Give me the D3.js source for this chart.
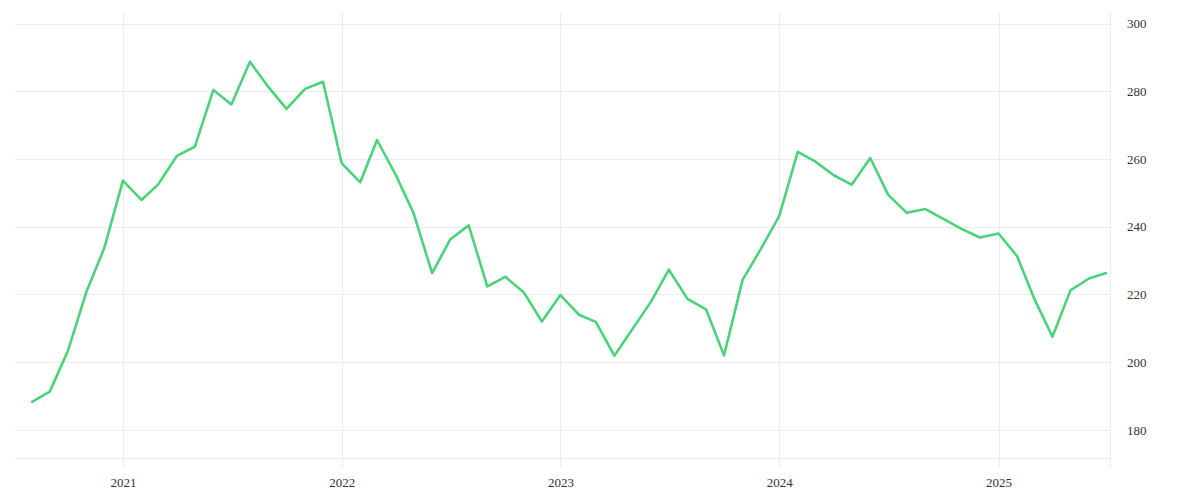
<!DOCTYPE html>
<html>
<head>
<meta charset="utf-8">
<script src="https://cdn.jsdelivr.net/npm/d3@7"></script>
<style>
    body { margin: 0; background: #fff; }
    .grid line { stroke: #ebebeb; stroke-width: 1; }
    .axis text { font-family: "Liberation Serif", serif; font-size: 13px; fill: #333; }
</style>
</head>
<body>
<div id="chart"></div>
<script>
// Monthly values, Aug 2020 .. Jul 2025
const startMonth = "2020-08";
const values = [
    188.1, 191.3, 203.2, 220.7, 233.7,
    253.6, 247.9, 252.5, 260.9, 263.6, 280.4, 276.1, 288.7, 281.2, 274.8, 280.7, 282.8,
    258.8, 253.1, 265.6, 255.4, 244.0, 226.3, 236.2, 240.4, 222.4, 225.2, 220.6, 212.0,
    219.8, 214.0, 211.9, 201.9, 209.7, 217.8, 227.3, 218.7, 215.6, 202.0, 224.3, 233.3,
    243.1, 262.1, 259.3, 255.2, 252.4, 260.3, 249.4, 244.1, 245.2, 242.3, 239.3, 236.8,
    238.0, 231.3, 219.0, 207.5, 221.2, 224.7, 226.4
];
const yTicks = [180, 200, 220, 240, 260, 280, 300];
const yearTicks = ["2021", "2022", "2023", "2024", "2025"];

const parseMonth = d3.timeParse("%Y-%m");
const data = values.map((v, i) => ({ date: d3.timeMonth.offset(parseMonth(startMonth), i), value: v }));

const margin = { top: 12, right: 90, bottom: 42, left: 15 };
const width = 1200 - margin.left - margin.right;
const height = 500 - margin.top - margin.bottom;

const svg = d3.select("#chart").append("svg")
    .attr("width", 1200)
    .attr("height", 500)
    .append("g")
    .attr("transform", "translate(" + margin.left + "," + margin.top + ")");

const x = d3.scaleTime()
    .domain([new Date(2020, 6, 5), new Date(2025, 6, 6)])
    .range([0, width]);

const y = d3.scaleLinear()
    .domain([171.7, 303.4])
    .range([height, 0]);

// horizontal grid
const grid = svg.append("g").attr("class", "grid");
grid.selectAll(".hline")
    .data(yTicks)
    .join("line")
    .attr("class", "hline")
    .attr("x1", 0).attr("x2", width)
    .attr("y1", d => Math.round(y(d)) + 0.5)
    .attr("y2", d => Math.round(y(d)) + 0.5);

// bottom line
grid.append("line")
    .attr("x1", 0).attr("x2", width)
    .attr("y1", height + 0.5).attr("y2", height + 0.5);

// vertical year lines, running a bit past the bottom
const yearDates = yearTicks.map(d => d3.timeParse("%Y")(d));
grid.selectAll(".vline")
    .data(yearDates)
    .join("line")
    .attr("class", "vline")
    .attr("x1", d => Math.round(x(d)) + 0.5)
    .attr("x2", d => Math.round(x(d)) + 0.5)
    .attr("y1", 0).attr("y2", height + 10);

// right edge
grid.append("line")
    .attr("x1", width + 0.5).attr("x2", width + 0.5)
    .attr("y1", 0).attr("y2", height + 10);

// axes (labels only)
const xAxis = d3.axisBottom(x)
    .tickValues(yearDates)
    .tickFormat(d3.timeFormat("%Y"))
    .tickSize(0)
    .tickPadding(20);

svg.append("g")
    .attr("class", "x-axis axis")
    .attr("transform", "translate(0," + height + ")")
    .call(xAxis)
    .call(g => g.select(".domain").remove());

const yAxis = d3.axisRight(y)
    .tickValues(yTicks)
    .tickSize(0)
    .tickPadding(17);

svg.append("g")
    .attr("class", "y-axis axis")
    .attr("transform", "translate(" + width + ",0)")
    .call(yAxis)
    .call(g => g.select(".domain").remove());

// the line
const line = d3.line()
    .x(d => x(d.date))
    .y(d => y(d.value));

svg.append("path")
    .datum(data)
    .attr("fill", "none")
    .attr("stroke", "#4cd27b")
    .attr("stroke-width", 2.6)
    .attr("stroke-linejoin", "round")
    .attr("d", line);
</script>
</body>
</html>
